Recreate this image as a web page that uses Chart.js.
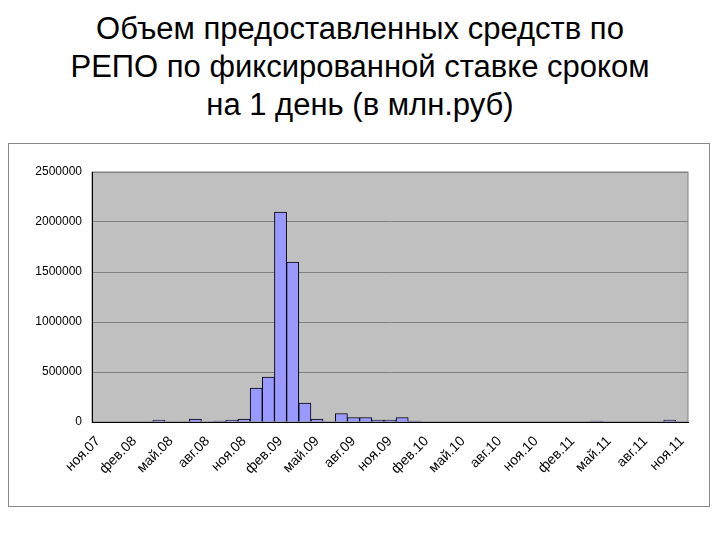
<!DOCTYPE html>
<html><head><meta charset="utf-8">
<script src="https://cdn.jsdelivr.net/npm/chart.js@4"></script>
<style>
body{margin:0;background:#fff;width:720px;height:540px;position:relative;font-family:'Liberation Sans',Arial,sans-serif}
#title{position:absolute;top:10px;left:0;width:720px;text-align:center;font-size:31px;line-height:38px;color:#000}
#box{position:absolute;left:8px;top:143px;width:702px;height:364px;border:1px solid #888;box-sizing:border-box}
</style></head><body>
<div id="title">Объем предоставленных средств по<br>РЕПО по фиксированной ставке сроком<br>на 1 день (в млн.руб)</div>
<div id="box"><canvas id="c" width="700" height="362"></canvas></div>
<script>
const MONTHS = ['янв','фев','мар','апр','май','июн','июл','авг','сен','окт','ноя','дек'];
const labels = [];
for (let i = 0; i < 49; i++) { const m = (10 + i) % 12, y = 7 + Math.floor((10 + i) / 12); labels.push(MONTHS[m] + '.' + String(y).padStart(2, '0')); }
const values = [0,0,0,0,0,20000,0,0,30000,0,10000,20000,30000,340000,450000,2100000,1600000,190000,30000,0,85000,45000,45000,20000,20000,45000,10000,0,0,0,0,0,0,0,0,0,0,0,0,0,0,10000,0,0,0,0,0,20000,0];
const yTicks = [0,500000,1000000,1500000,2000000,2500000];
const bg = {id:'bg',beforeDraw(ch){const a=ch.chartArea,x=ch.ctx;x.save();x.fillStyle='#c0c0c0';x.fillRect(a.left,a.top,a.width,a.height);x.strokeStyle='#808080';x.strokeRect(a.left,a.top,a.width,a.height);x.restore();}};
new Chart(document.getElementById('c'), {
  type:'bar',
  data:{labels, datasets:[{data:values, backgroundColor:'#9999ff', borderColor:'#000', borderWidth:1, barPercentage:1, categoryPercentage:1}]},
  options:{responsive:false, animation:false, layout:{padding:{top:28,right:21,left:0,bottom:0}},
    plugins:{legend:{display:false}, tooltip:{enabled:false}},
    scales:{
      x:{afterFit:s=>{s.height=84;}, grid:{display:false}, border:{color:'#000'}, ticks:{autoSkip:false, maxRotation:45, minRotation:45, color:'#000', font:{family:'Liberation Sans',size:14}, callback:(v,i)=> i%3===0 ? labels[i] : ''}},
      y:{afterFit:s=>{s.width=83;}, min:0,max:2500000, afterBuildTicks:s=>{s.ticks=yTicks.map(v=>({value:v}));}, grid:{color:'#808080', drawTicks:false}, border:{color:'#000'}, ticks:{color:'#000', padding:10, font:{family:'Liberation Sans',size:12}, callback:v=>String(v)}}
    }},
  plugins:[bg]
});
</script></body></html>
